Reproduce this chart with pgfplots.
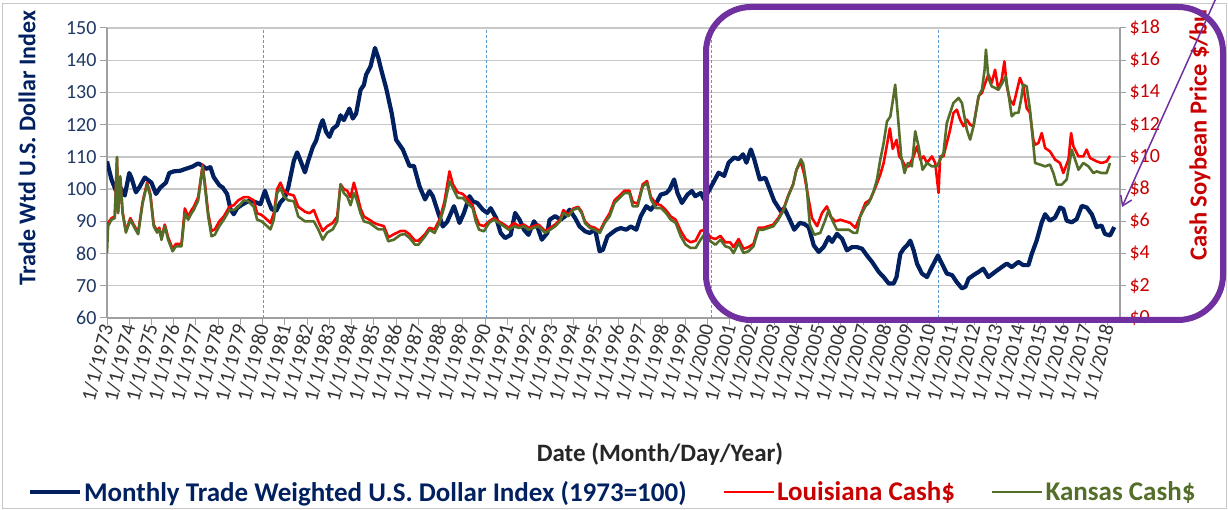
\documentclass[border=0pt]{standalone}
\usepackage{pgfplots}
\pgfplotsset{compat=1.18}
\usepackage{fontspec}
\setmainfont{Carlito}
\usetikzlibrary{arrows.meta}
\definecolor{navy}{RGB}{0,32,96}
\definecolor{navytext}{RGB}{31,56,100}
\definecolor{soyred}{RGB}{255,0,0}
\definecolor{darkred}{RGB}{200,0,0}
\definecolor{kgreen}{RGB}{84,110,42}
\definecolor{gridgray}{RGB}{200,200,200}
\definecolor{axisgray}{RGB}{160,160,160}
\definecolor{dashblue}{RGB}{91,155,213}
\definecolor{purp}{RGB}{112,48,160}
\begin{document}
\begin{tikzpicture}[x=1pt,y=1pt]
\path[use as bounding box] (0,0) rectangle (1228,510);
\draw[gridgray, line width=1pt] (2.5,1.5) rectangle (1226,506.5);
\begin{axis}[
  at={(107pt,192pt)}, anchor=south west, scale only axis,
  width=1013pt, height=290pt,
  xmin=1973, xmax=2018.55, ymin=60, ymax=150,
  axis x line*=bottom, axis y line*=left,
  axis line style={-, draw=axisgray, line width=1.3pt},
  ytick={60,70,...,150}, ymajorgrids, grid style={gridgray, line width=1.3pt},
  xtick={1973,1974,...,2018},
  xticklabels={1/1/1973,1/1/1974,1/1/1975,1/1/1976,1/1/1977,1/1/1978,1/1/1979,1/1/1980,1/1/1981,1/1/1982,1/1/1983,1/1/1984,1/1/1985,1/1/1986,1/1/1987,1/1/1988,1/1/1989,1/1/1990,1/1/1991,1/1/1992,1/1/1993,1/1/1994,1/1/1995,1/1/1996,1/1/1997,1/1/1998,1/1/1999,1/1/2000,1/1/2001,1/1/2002,1/1/2003,1/1/2004,1/1/2005,1/1/2006,1/1/2007,1/1/2008,1/1/2009,1/1/2010,1/1/2011,1/1/2012,1/1/2013,1/1/2014,1/1/2015,1/1/2016,1/1/2017,1/1/2018},
  tick align=outside, major tick length=7pt, tick style={axisgray, line width=1pt},
  xticklabel style={rotate=76, anchor=east, font=\fontsize{20.5}{20.5}\selectfont, text=black!80, inner sep=2pt, xshift=2pt},
  yticklabel style={font=\fontsize{20}{20}\selectfont, text=navytext},
  /pgf/number format/assume math mode=true,
  every axis plot/.append style={line join=round, mark=none},
]
\addplot[dashblue, line width=1.1pt, dash pattern=on 3pt off 2pt] coordinates {(1980.05,60) (1980.05,150)};
\addplot[dashblue, line width=1.1pt, dash pattern=on 3pt off 2pt] coordinates {(1990.05,60) (1990.05,150)};
\addplot[dashblue, line width=1.1pt, dash pattern=on 3pt off 2pt] coordinates {(2000.2,60) (2000.2,150)};
\addplot[dashblue, line width=1.1pt, dash pattern=on 3pt off 2pt] coordinates {(2010.4,60) (2010.4,150)};
\addplot[navy, line width=4.2pt] coordinates {
(1973.0,108.6) (1973.2,103) (1973.4,99.5) (1973.6,100.5) (1973.8,98) (1974.0,105) (1974.1,103.5) (1974.3,99) (1974.45,100.5) (1974.7,103.6) (1975.0,102) (1975.2,98.5) (1975.4,100.5) (1975.65,102) (1975.8,105) (1976.0,105.5) (1976.3,105.7) (1976.5,106.2) (1976.85,107) (1977.1,108) (1977.3,107.2) (1977.45,106.3) (1977.65,106.8) (1977.8,103.7) (1978.05,101.2) (1978.2,100.5) (1978.4,98.5) (1978.55,93.8) (1978.7,92.2) (1978.85,94.1) (1979.1,95.3) (1979.4,96.4) (1979.7,95.9) (1979.9,95.3) (1980.1,99.5) (1980.25,96.4) (1980.4,93.8) (1980.6,93.2) (1980.8,95.9) (1981.0,97.4) (1981.15,100.5) (1981.4,108.8) (1981.55,111.4) (1981.7,108.8) (1981.9,105.2) (1982.05,108.8) (1982.25,113) (1982.4,115) (1982.6,119.8) (1982.7,121.4) (1982.85,117.8) (1983.0,116.2) (1983.15,118.7) (1983.35,119.8) (1983.5,122.9) (1983.65,121.4) (1983.9,125.0) (1984.05,121.9) (1984.2,123.4) (1984.4,130.8) (1984.55,132.3) (1984.65,135.5) (1984.85,138.1) (1985.05,143.8) (1985.2,140.7) (1985.35,136.5) (1985.55,131.4) (1985.8,123.6) (1986.0,115.3) (1986.3,112.3) (1986.6,107.2) (1986.8,107.2) (1987.05,100.9) (1987.3,96.8) (1987.5,99.4) (1987.65,97.8) (1987.9,92.5) (1988.1,88.4) (1988.3,89.9) (1988.5,93.1) (1988.6,94.7) (1988.75,91.6) (1988.85,89.5) (1989.05,92.6) (1989.3,97.8) (1989.45,96.2) (1989.65,95.7) (1989.9,93.6) (1990.1,92.6) (1990.25,94.1) (1990.5,91.0) (1990.7,86.4) (1990.9,84.8) (1991.15,85.8) (1991.35,92.6) (1991.55,90.5) (1991.75,87.4) (1991.95,85.8) (1992.2,90) (1992.35,88.4) (1992.55,84.3) (1992.8,86.4) (1992.9,90.5) (1993.15,91.6) (1993.4,90.5) (1993.6,91.6) (1993.8,93.6) (1994.05,91.0) (1994.25,88.4) (1994.5,86.9) (1994.7,86.4) (1994.95,87.4) (1995.15,80.7) (1995.3,81.2) (1995.5,85.3) (1995.7,86.4) (1995.9,87.4) (1996.1,87.9) (1996.35,87.4) (1996.55,88.4) (1996.8,87.4) (1997.0,91.6) (1997.25,94.7) (1997.45,93.6) (1997.7,95.7) (1997.9,98.3) (1998.15,98.8) (1998.3,99.9) (1998.5,103) (1998.65,98.8) (1998.85,95.7) (1999.1,98.3) (1999.3,99.4) (1999.45,97.8) (1999.7,98.8) (1999.85,96.8) (2000.05,99.4) (2000.3,102.5) (2000.5,105.1) (2000.75,104.1) (2000.95,108.2) (2001.2,109.8) (2001.4,109.3) (2001.6,110.8) (2001.75,108.2) (2001.95,112.3) (2002.1,109.3) (2002.35,103) (2002.6,103.5) (2002.8,99.9) (2003.0,96.3) (2003.3,93.1) (2003.45,94.1) (2003.7,90.5) (2003.9,87.4) (2004.15,89.5) (2004.35,89.2) (2004.55,88.2) (2004.78,82.5) (2005.0,80.5) (2005.22,82) (2005.45,85.1) (2005.6,83.6) (2005.82,86.1) (2006.05,84.6) (2006.27,81) (2006.5,82) (2006.72,82) (2006.95,81.5) (2007.17,79.4) (2007.4,77.4) (2007.7,74.3) (2007.92,72.7) (2008.15,70.7) (2008.37,70.7) (2008.5,72.7) (2008.67,79.9) (2008.82,81.5) (2008.97,82.5) (2009.12,84) (2009.27,81) (2009.42,76.9) (2009.64,73.8) (2009.87,72.7) (2010.09,75.8) (2010.36,79.4) (2010.54,76.9) (2010.76,73.8) (2011.0,73.3) (2011.2,71.2) (2011.44,69.2) (2011.6,69.7) (2011.74,72.2) (2011.96,73.3) (2012.19,74.3) (2012.4,75.3) (2012.63,72.7) (2012.93,74.3) (2013.23,75.8) (2013.46,76.9) (2013.68,75.8) (2013.98,77.4) (2014.2,76.4) (2014.43,76.4) (2014.58,79.9) (2014.8,84) (2015.03,89.7) (2015.18,92.2) (2015.4,90.2) (2015.63,91.2) (2015.85,94.3) (2016.0,93.8) (2016.15,90.2) (2016.38,89.7) (2016.6,90.7) (2016.83,94.8) (2017.05,94.3) (2017.28,92.2) (2017.5,88.2) (2017.72,88.7) (2017.87,86.1) (2018.1,85.6) (2018.29,88.2)
};
\end{axis}
\begin{axis}[
  at={(107pt,192pt)}, anchor=south west, scale only axis,
  width=1013pt, height=290pt,
  xmin=1973, xmax=2018.55, ymin=0, ymax=18,
  axis y line*=right, axis x line=none,
  axis line style={-, draw=axisgray, line width=1.3pt},
  ytick={0,2,...,18},
  yticklabels={\$0,\$2,\$4,\$6,\$8,\$10,\$12,\$14,\$16,\$18},
  tick align=outside, major tick length=6pt, tick style={axisgray, line width=1pt},
  yticklabel style={font=\fontsize{20}{20}\selectfont, text=darkred},
  every axis plot/.append style={line join=round, mark=none},
  legend style={at={(0.499,-0.6)}, anchor=center, draw=none, fill=none,
    legend columns=3, font=\bfseries\fontsize{27}{30}\selectfont, inner sep=0pt,
    /tikz/every even column/.append style={column sep=34pt}},
  legend image code/.code={\draw[#1] (0pt,0pt) -- (50pt,0pt);},
]
\addlegendimage{navy, line width=4.5pt}
\addlegendentry{\textcolor{navy}{Monthly Trade Weighted U.S. Dollar Index (1973=100)}}
\addplot[soyred, line width=2.6pt] coordinates {
(1973.0,5.8) (1973.05,5.9) (1973.2,6.2) (1973.35,6.3) (1973.45,9.9) (1973.5,6.6) (1973.6,8.6) (1973.7,6.6) (1973.85,5.4) (1974.05,6.2) (1974.2,5.8) (1974.4,5.3) (1974.6,7.2) (1974.8,8.4) (1974.95,7.7) (1975.1,5.8) (1975.25,5.4) (1975.35,5.6) (1975.45,5.0) (1975.6,5.8) (1975.75,5.0) (1975.95,4.3) (1976.1,4.6) (1976.35,4.6) (1976.5,6.8) (1976.65,6.3) (1976.8,6.7) (1976.9,6.9) (1977.1,7.5) (1977.3,9.5) (1977.4,8.4) (1977.55,6.5) (1977.7,5.4) (1977.85,5.5) (1978.05,6.0) (1978.25,6.3) (1978.5,6.9) (1978.7,7.0) (1978.9,7.3) (1979.15,7.5) (1979.35,7.5) (1979.6,7.3) (1979.75,6.5) (1979.95,6.4) (1980.2,6.1) (1980.35,5.9) (1980.5,6.5) (1980.65,8.0) (1980.8,8.4) (1980.95,7.9) (1981.15,7.7) (1981.4,7.6) (1981.6,6.9) (1981.9,6.6) (1982.1,6.5) (1982.3,6.7) (1982.5,6.0) (1982.7,5.4) (1982.9,5.7) (1983.15,5.9) (1983.35,6.3) (1983.5,8.3) (1983.65,8.0) (1983.8,7.9) (1983.95,7.5) (1984.1,8.4) (1984.2,7.9) (1984.4,6.8) (1984.55,6.3) (1984.8,6.1) (1985.0,5.9) (1985.2,5.8) (1985.45,5.7) (1985.65,5.0) (1985.9,5.2) (1986.2,5.4) (1986.4,5.4) (1986.6,5.2) (1986.85,4.8) (1987.0,4.8) (1987.3,5.2) (1987.5,5.6) (1987.73,5.5) (1987.95,6.1) (1988.17,7.2) (1988.4,9.1) (1988.55,8.3) (1988.77,7.8) (1989.0,7.7) (1989.2,7.4) (1989.44,7.0) (1989.58,6.3) (1989.73,5.8) (1989.95,5.7) (1990.18,6.0) (1990.4,6.2) (1990.62,6.0) (1990.85,5.8) (1991.07,5.6) (1991.3,5.9) (1991.52,5.7) (1991.74,5.8) (1991.96,5.6) (1992.18,5.7) (1992.4,5.8) (1992.7,5.4) (1992.93,5.6) (1993.15,5.8) (1993.37,6.1) (1993.52,6.7) (1993.74,6.4) (1993.97,6.8) (1994.19,6.9) (1994.34,6.6) (1994.49,6.0) (1994.71,5.7) (1994.93,5.6) (1995.16,5.4) (1995.38,6.0) (1995.6,6.5) (1995.82,7.3) (1996.05,7.6) (1996.27,7.9) (1996.49,7.9) (1996.64,7.2) (1996.86,7.1) (1997.09,8.3) (1997.28,8.5) (1997.46,7.5) (1997.68,7.1) (1997.9,7.0) (1998.13,6.7) (1998.35,6.3) (1998.57,6.1) (1998.8,5.4) (1999.02,4.9) (1999.24,4.7) (1999.47,4.8) (1999.69,5.4) (1999.91,5.5) (2000.13,5.0) (2000.36,4.9) (2000.58,5.1) (2000.8,4.7) (2001.02,4.7) (2001.17,4.4) (2001.4,4.9) (2001.62,4.3) (2001.84,4.4) (2002.07,4.6) (2002.29,5.6) (2002.51,5.6) (2002.74,5.7) (2002.96,5.8) (2003.18,6.2) (2003.4,6.7) (2003.63,7.6) (2003.85,8.3) (2004.0,9.2) (2004.2,9.7) (2004.35,8.9) (2004.55,7.35) (2004.7,6.2) (2004.93,5.7) (2005.15,6.52) (2005.37,6.93) (2005.52,6.31) (2005.75,6.0) (2005.97,6.1) (2006.2,6.0) (2006.42,5.9) (2006.65,5.59) (2006.8,6.1) (2007.1,7.14) (2007.32,7.35) (2007.54,8.07) (2007.77,8.9) (2007.92,9.62) (2008.05,10.6) (2008.2,11.77) (2008.33,10.5) (2008.5,11.05) (2008.62,10.03) (2008.74,9.83) (2008.9,9.41) (2009.04,9.41) (2009.27,10.03) (2009.42,10.66) (2009.57,9.83) (2009.72,10.03) (2009.87,9.62) (2010.09,10.03) (2010.24,9.62) (2010.39,7.76) (2010.46,10.03) (2010.61,10.03) (2010.76,10.86) (2010.91,11.69) (2011.06,12.73) (2011.21,12.93) (2011.36,12.31) (2011.51,11.9) (2011.66,12.31) (2011.81,12.0) (2011.96,11.9) (2012.19,13.76) (2012.34,13.97) (2012.49,14.59) (2012.63,15.1) (2012.78,14.59) (2012.93,15.41) (2013.08,14.17) (2013.23,14.8) (2013.35,15.93) (2013.46,14.38) (2013.6,13.55) (2013.76,13.24) (2014.05,14.9) (2014.2,14.38) (2014.35,13.03) (2014.5,12.73) (2014.65,11.07) (2014.73,10.76) (2014.88,10.86) (2015.03,11.48) (2015.18,10.55) (2015.4,10.34) (2015.63,9.83) (2015.85,9.62) (2016.0,9.0) (2016.23,9.83) (2016.35,11.48) (2016.45,10.66) (2016.68,10.03) (2016.9,10.03) (2017.05,10.45) (2017.2,9.93) (2017.5,9.72) (2017.72,9.62) (2017.95,9.72) (2018.1,10.07)
};
\addlegendentry{\textcolor{darkred}{Louisiana Cash\$}}
\addplot[kgreen, line width=2.6pt] coordinates {
(1973.0,4.03) (1973.05,5.7) (1973.2,6.1) (1973.35,6.2) (1973.45,10.0) (1973.5,6.5) (1973.6,8.8) (1973.7,6.5) (1973.85,5.3) (1974.05,6.1) (1974.2,5.7) (1974.4,5.2) (1974.6,7.1) (1974.8,8.3) (1974.95,7.55) (1975.1,5.7) (1975.25,5.3) (1975.35,5.5) (1975.45,4.85) (1975.6,5.7) (1975.75,4.85) (1975.95,4.14) (1976.1,4.45) (1976.35,4.45) (1976.5,6.5) (1976.65,6.1) (1976.8,6.5) (1976.9,6.7) (1977.1,7.3) (1977.3,9.4) (1977.4,8.2) (1977.55,6.3) (1977.7,5.07) (1977.85,5.17) (1978.05,5.7) (1978.25,6.1) (1978.5,6.7) (1978.7,6.7) (1978.9,6.9) (1979.15,7.3) (1979.35,7.25) (1979.6,6.9) (1979.75,6.1) (1979.95,6.0) (1980.2,5.7) (1980.35,5.5) (1980.5,6.1) (1980.65,7.75) (1980.8,8.07) (1980.95,7.55) (1981.15,7.3) (1981.4,7.25) (1981.6,6.3) (1981.9,6.0) (1982.1,6.0) (1982.3,6.0) (1982.5,5.5) (1982.7,4.86) (1982.9,5.3) (1983.15,5.5) (1983.35,6.0) (1983.5,8.3) (1983.65,7.75) (1983.8,7.55) (1983.95,7.0) (1984.1,7.75) (1984.2,7.45) (1984.4,6.5) (1984.55,6.0) (1984.8,5.9) (1985.0,5.7) (1985.2,5.5) (1985.45,5.5) (1985.65,4.76) (1985.9,4.86) (1986.2,5.17) (1986.4,5.2) (1986.6,4.97) (1986.85,4.55) (1987.0,4.55) (1987.3,5.07) (1987.5,5.48) (1987.73,5.28) (1987.95,5.9) (1988.17,6.93) (1988.4,8.48) (1988.55,8.07) (1988.77,7.45) (1989.0,7.45) (1989.2,7.14) (1989.44,6.83) (1989.58,6.0) (1989.73,5.48) (1989.95,5.38) (1990.18,5.9) (1990.4,6.1) (1990.62,5.9) (1990.85,5.69) (1991.07,5.48) (1991.3,5.69) (1991.52,5.59) (1991.74,5.69) (1991.96,5.48) (1992.18,5.59) (1992.4,5.69) (1992.7,5.28) (1992.93,5.48) (1993.15,5.69) (1993.37,6.0) (1993.52,6.52) (1993.74,6.31) (1993.97,6.72) (1994.19,6.83) (1994.34,6.52) (1994.49,5.9) (1994.71,5.59) (1994.93,5.48) (1995.16,5.28) (1995.38,5.9) (1995.6,6.31) (1995.82,7.14) (1996.05,7.45) (1996.27,7.76) (1996.49,7.76) (1996.64,6.93) (1996.86,6.93) (1997.09,8.17) (1997.28,8.38) (1997.46,7.35) (1997.68,6.83) (1997.9,6.83) (1998.13,6.52) (1998.35,6.1) (1998.57,5.9) (1998.8,5.07) (1999.02,4.55) (1999.24,4.35) (1999.47,4.35) (1999.69,4.86) (1999.91,5.28) (2000.13,4.76) (2000.36,4.55) (2000.58,4.86) (2000.8,4.45) (2001.02,4.35) (2001.17,4.03) (2001.4,4.66) (2001.62,4.03) (2001.84,4.14) (2002.07,4.45) (2002.29,5.48) (2002.51,5.48) (2002.74,5.59) (2002.96,5.69) (2003.18,6.1) (2003.4,6.62) (2003.63,7.55) (2003.85,8.28) (2004.0,9.2) (2004.2,9.85) (2004.3,9.6) (2004.45,8.3) (2004.6,5.8) (2004.8,5.17) (2005.07,5.28) (2005.3,6.1) (2005.45,6.72) (2005.6,6.1) (2005.82,5.48) (2006.05,5.48) (2006.35,5.48) (2006.57,5.28) (2006.72,5.28) (2006.87,6.31) (2007.1,6.93) (2007.25,7.14) (2007.47,7.86) (2007.62,8.59) (2007.77,9.83) (2007.92,10.86) (2008.07,12.2) (2008.22,12.5) (2008.34,13.55) (2008.44,14.48) (2008.6,11.9) (2008.71,10.03) (2008.86,9.0) (2009.01,9.62) (2009.19,9.41) (2009.34,11.59) (2009.49,10.66) (2009.67,9.2) (2009.87,9.62) (2010.09,9.41) (2010.31,9.41) (2010.46,9.83) (2010.61,10.24) (2010.76,12.1) (2010.91,12.73) (2011.06,13.35) (2011.29,13.66) (2011.44,13.35) (2011.66,11.69) (2011.81,11.07) (2011.96,11.9) (2012.19,13.76) (2012.34,14.17) (2012.46,15.41) (2012.52,16.66) (2012.63,14.9) (2012.78,14.38) (2012.93,14.28) (2013.08,14.17) (2013.26,14.59) (2013.41,15.0) (2013.56,13.66) (2013.68,12.52) (2013.83,12.73) (2013.98,12.73) (2014.1,13.55) (2014.2,14.48) (2014.35,14.38) (2014.5,12.93) (2014.63,11.07) (2014.73,9.62) (2014.96,9.52) (2015.18,9.41) (2015.4,9.52) (2015.55,9.0) (2015.7,8.28) (2015.93,8.28) (2016.15,8.59) (2016.38,10.45) (2016.53,9.83) (2016.68,9.2) (2016.9,9.62) (2017.13,9.41) (2017.35,9.0) (2017.5,9.1) (2017.72,9.0) (2017.95,9.0) (2018.1,9.62)
};
\addlegendentry{\textcolor{kgreen}{Kansas Cash\$}}
\end{axis}
\node[rotate=90, font=\bfseries\fontsize{24}{24}\selectfont, text=navy] at (27,362) {Trade Wtd U.S. Dollar Index};
\node[rotate=90, font=\bfseries\fontsize{24.5}{24.5}\selectfont, text=darkred] at (1200,375) {Cash Soybean Price \$/bu};
\node[font=\bfseries\fontsize{25}{25}\selectfont, text=black!85] at (660,56) {Date (Month/Day/Year)};
\draw[purp, line width=6pt, rounded corners=45pt] (706,190) rectangle (1223,503);
\draw[purp, line width=1.5pt, -{Straight Barb[length=9pt,width=12pt]}] (1217,514) -- (1122,303);
\end{tikzpicture}
\end{document}
